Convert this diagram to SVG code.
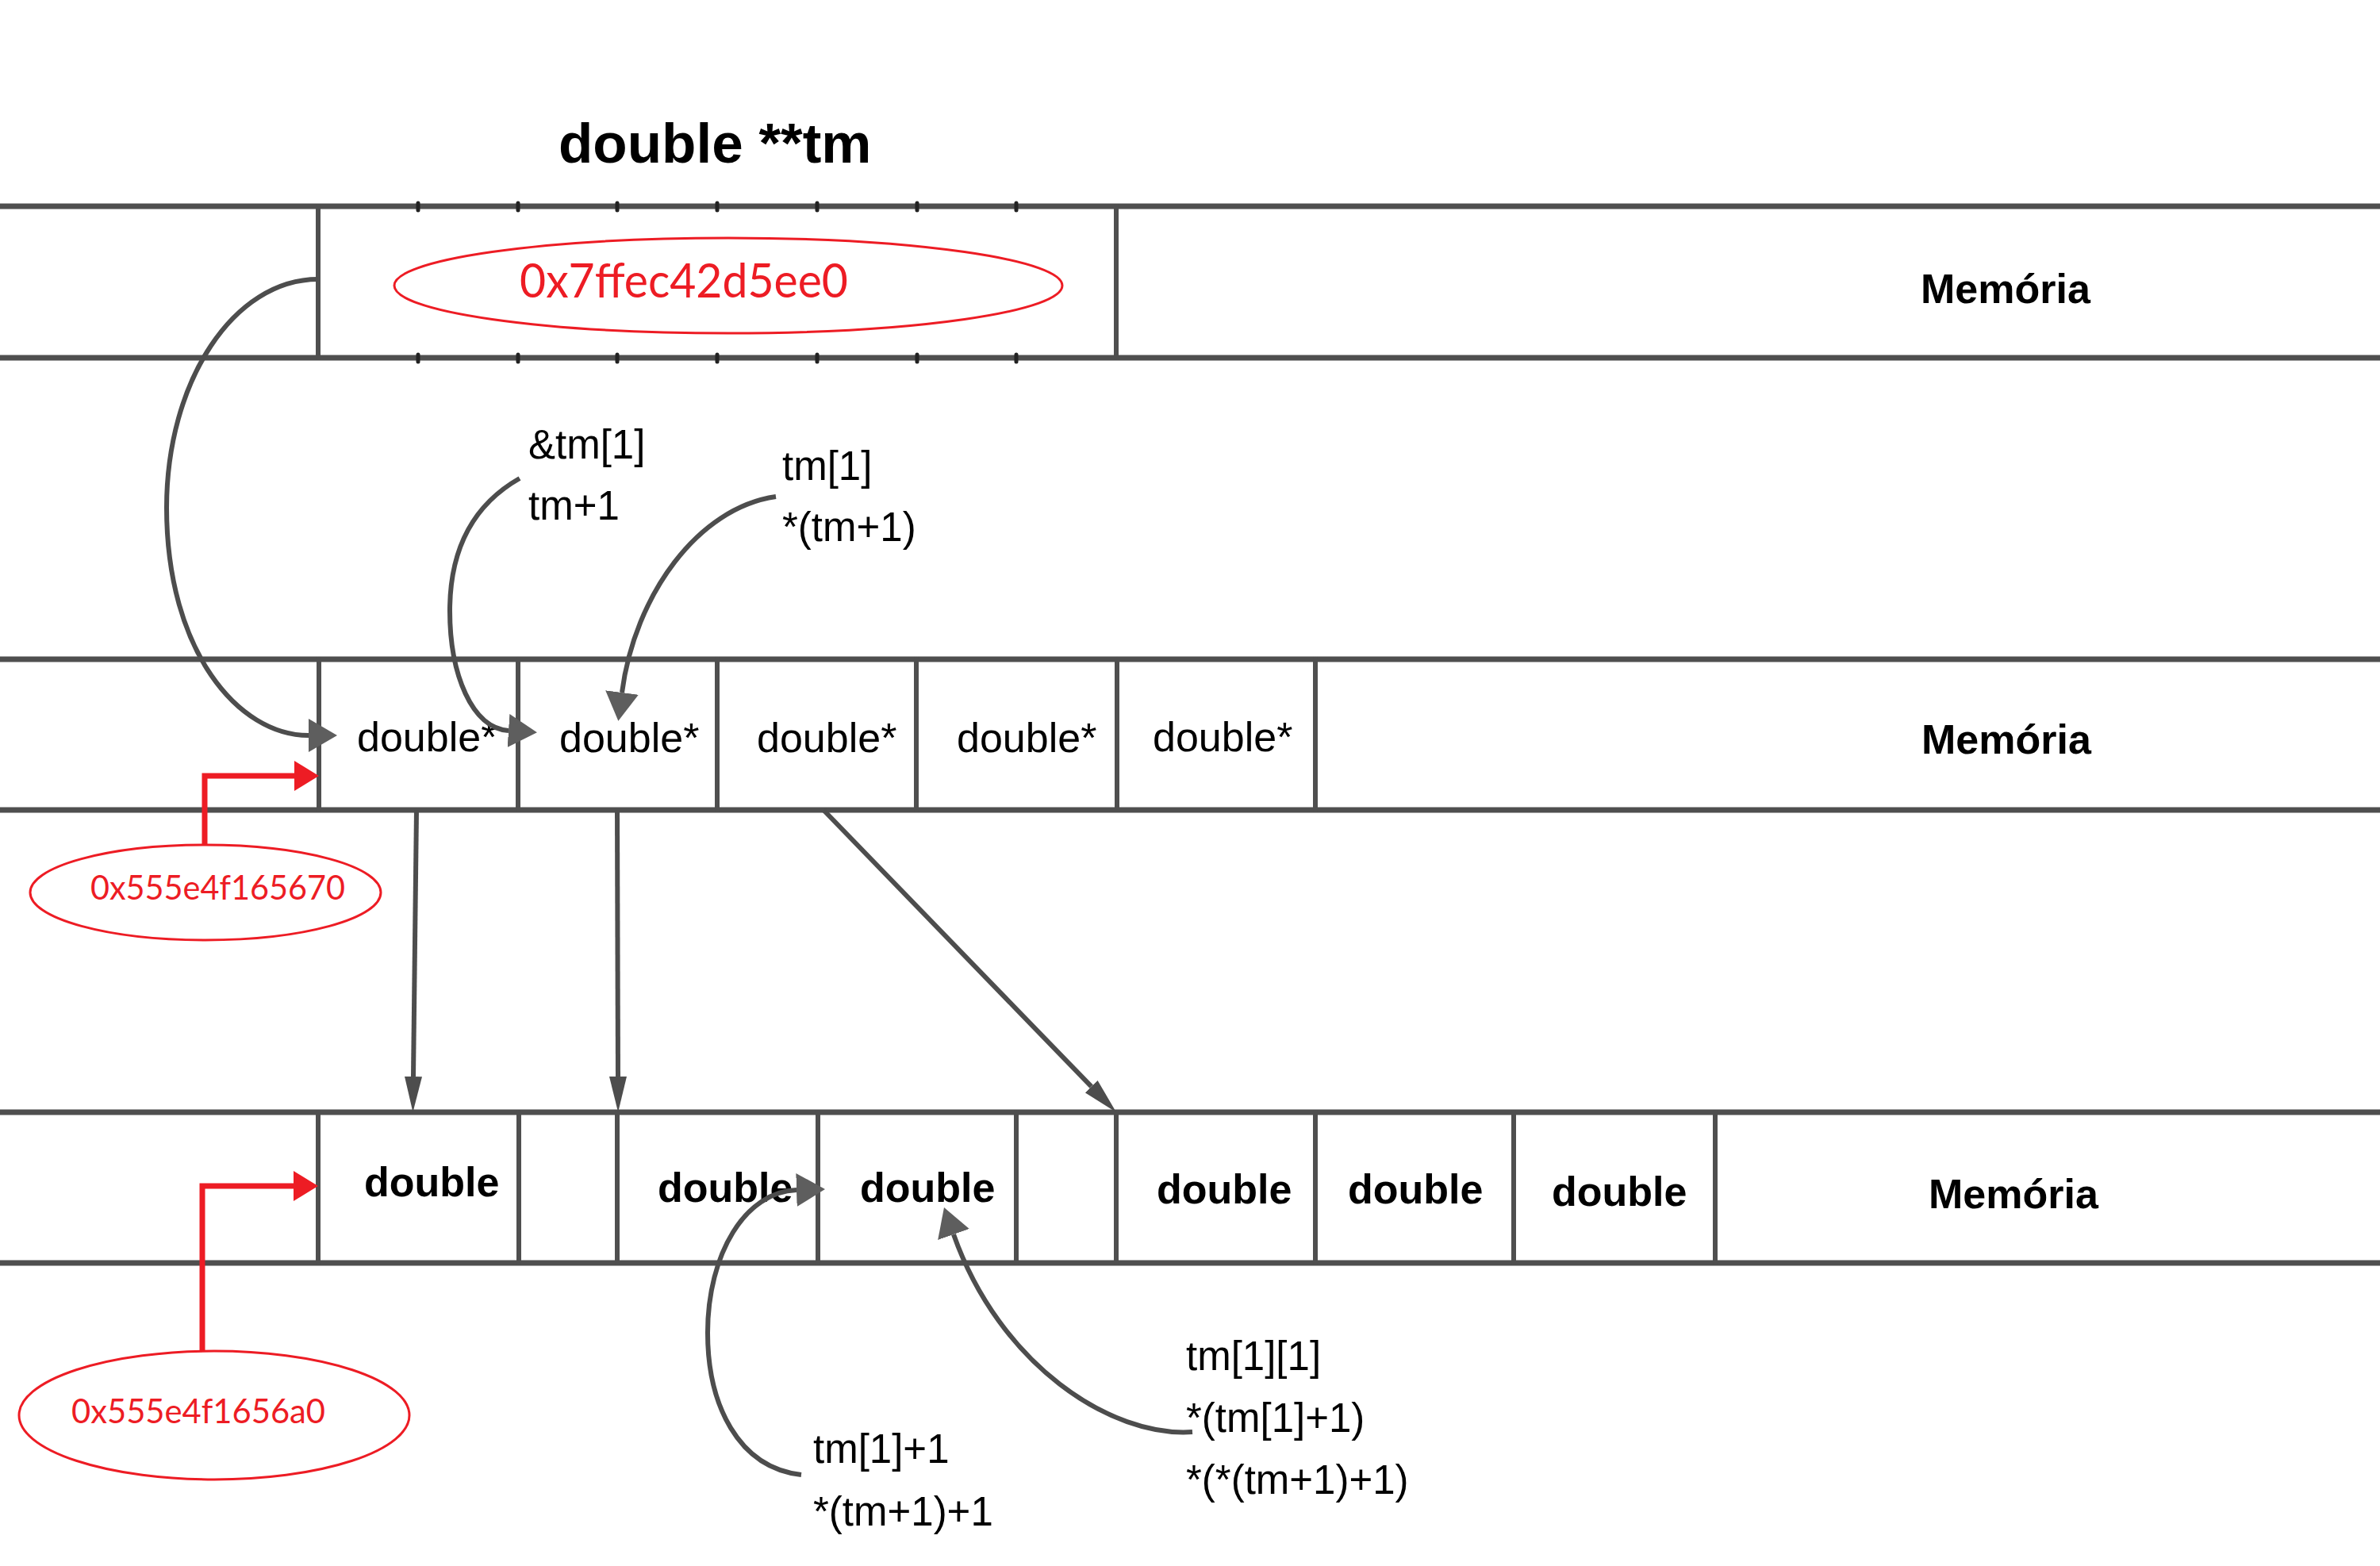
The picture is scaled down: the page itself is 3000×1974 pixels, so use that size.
<svg xmlns="http://www.w3.org/2000/svg" width="3000" height="1974" viewBox="0 0 3000 1974">
<style>
  .band { stroke: #4f4f4f; stroke-width: 7; fill: none; }
  .cell { stroke: #4f4f4f; stroke-width: 6; fill: none; stroke-linecap: round; }
  .tick { stroke: #222; stroke-width: 5; stroke-linecap: round; }
  .conn { stroke: #4d4d4d; stroke-width: 6; fill: none; }
  .red { stroke: #ed1c24; stroke-width: 7; fill: none; }
  .addr { stroke: #ed1c24; stroke-width: 3; fill: none; }
  .lbl { font-family: "Liberation Sans", Arial, sans-serif; font-size: 51px; fill: #000; }
  .ptr { font-family: "Liberation Sans", Arial, sans-serif; font-size: 52px; fill: #000; }
  .dbl { font-family: "Liberation Sans", Arial, sans-serif; font-size: 52px; font-weight: bold; fill: #000; }
  .mem { font-family: "Liberation Sans", Arial, sans-serif; font-size: 52px; font-weight: bold; fill: #000; }
  .hex { font-family: Lato, "Liberation Sans", sans-serif; fill: #ed1c24; }
</style>
<defs>
  <marker id="arrC" markerUnits="userSpaceOnUse" viewBox="0 0 36 42" markerWidth="36" markerHeight="42" refX="0" refY="21" orient="auto">
    <path d="M0,0 L36,21 L0,42 Z" fill="#5e5e5e"/>
  </marker>
  <marker id="arrS" markerUnits="userSpaceOnUse" viewBox="0 0 45 22" markerWidth="45" markerHeight="22" refX="0" refY="11" orient="auto">
    <path d="M0,0 L45,11 L0,22 Z" fill="#4d4d4d"/>
  </marker>
  <marker id="arrR" markerUnits="userSpaceOnUse" viewBox="0 0 31 38" markerWidth="31" markerHeight="38" refX="0" refY="19" orient="auto">
    <path d="M0,0 L31,19 L0,38 Z" fill="#ed1c24"/>
  </marker>
</defs>
<rect width="3000" height="1974" fill="#fff"/>

<text id="title" x="704" y="205" font-family="Liberation Sans, Arial, sans-serif" font-size="71" font-weight="bold">double **tm</text>

<!-- Band 1: double **tm -->
<g id="band1">
  <line class="band" x1="0" y1="260" x2="3000" y2="260"/>
  <line class="band" x1="0" y1="451" x2="3000" y2="451"/>
  <line class="cell" x1="401" y1="260" x2="401" y2="451"/>
  <line class="cell" x1="1407" y1="260" x2="1407" y2="451"/>
  <g class="tick">
    <line x1="527" y1="256" x2="527" y2="265"/><line x1="653" y1="256" x2="653" y2="265"/>
    <line x1="778" y1="256" x2="778" y2="265"/><line x1="904" y1="256" x2="904" y2="265"/>
    <line x1="1030" y1="256" x2="1030" y2="265"/><line x1="1156" y1="256" x2="1156" y2="265"/>
    <line x1="1281" y1="256" x2="1281" y2="265"/>
    <line x1="527" y1="447" x2="527" y2="456"/><line x1="653" y1="447" x2="653" y2="456"/>
    <line x1="778" y1="447" x2="778" y2="456"/><line x1="904" y1="447" x2="904" y2="456"/>
    <line x1="1030" y1="447" x2="1030" y2="456"/><line x1="1156" y1="447" x2="1156" y2="456"/>
    <line x1="1281" y1="447" x2="1281" y2="456"/>
  </g>
  <text class="mem" x="2421" y="382">Memória</text>
</g>
<g id="addr-tm">
  <ellipse class="addr" cx="918" cy="360" rx="421" ry="60"/>
  <text class="hex" x="655" y="375" font-size="60" textLength="414" lengthAdjust="spacingAndGlyphs">0x7ffec42d5ee0</text>
</g>

<!-- Band 2: double* array -->
<g id="band2">
  <line class="band" x1="0" y1="831" x2="3000" y2="831"/>
  <line class="band" x1="0" y1="1021" x2="3000" y2="1021"/>
  <line class="cell" x1="402" y1="831" x2="402" y2="1021"/>
  <line class="cell" x1="653" y1="831" x2="653" y2="1021"/>
  <line class="cell" x1="904" y1="831" x2="904" y2="1021"/>
  <line class="cell" x1="1155" y1="831" x2="1155" y2="1021"/>
  <line class="cell" x1="1408" y1="831" x2="1408" y2="1021"/>
  <line class="cell" x1="1658" y1="831" x2="1658" y2="1021"/>
  <text class="mem" x="2422" y="950">Memória</text>
</g>
<g id="ptr0"><text class="ptr" x="450" y="947">double*</text></g>
<g id="ptr1"><text class="ptr" x="705" y="948">double*</text></g>
<g id="ptr2"><text class="ptr" x="954" y="948">double*</text></g>
<g id="ptr3"><text class="ptr" x="1206" y="948">double*</text></g>
<g id="ptr4"><text class="ptr" x="1453" y="947">double*</text></g>
<g id="addr-row">
  <ellipse class="addr" cx="259" cy="1125" rx="221" ry="60"/>
  <text class="hex" x="114" y="1134" font-size="42" textLength="321" lengthAdjust="spacingAndGlyphs">0x555e4f165670</text>
</g>

<!-- Band 3: doubles -->
<g id="band3">
  <line class="band" x1="0" y1="1402" x2="3000" y2="1402"/>
  <line class="band" x1="0" y1="1592" x2="3000" y2="1592"/>
  <line class="cell" x1="401" y1="1402" x2="401" y2="1592"/>
  <line class="cell" x1="654" y1="1402" x2="654" y2="1592"/>
  <line class="cell" x1="778" y1="1402" x2="778" y2="1592"/>
  <line class="cell" x1="1031" y1="1402" x2="1031" y2="1592"/>
  <line class="cell" x1="1281" y1="1402" x2="1281" y2="1592"/>
  <line class="cell" x1="1407" y1="1402" x2="1407" y2="1592"/>
  <line class="cell" x1="1658" y1="1402" x2="1658" y2="1592"/>
  <line class="cell" x1="1908" y1="1402" x2="1908" y2="1592"/>
  <line class="cell" x1="2162" y1="1402" x2="2162" y2="1592"/>
  <text class="mem" x="2431" y="1523">Memória</text>
</g>
<g id="d0"><text class="dbl" x="459" y="1508">double</text></g>
<g id="d1"><text class="dbl" x="829" y="1515">double</text></g>
<g id="d2"><text class="dbl" x="1084" y="1515">double</text></g>
<g id="d3"><text class="dbl" x="1458" y="1517">double</text></g>
<g id="d4"><text class="dbl" x="1699" y="1517">double</text></g>
<g id="d5"><text class="dbl" x="1956" y="1520">double</text></g>
<g id="addr-data">
  <ellipse class="addr" cx="270" cy="1784" rx="246" ry="81"/>
  <text class="hex" x="90" y="1794" font-size="42" textLength="320" lengthAdjust="spacingAndGlyphs">0x555e4f1656a0</text>
</g>

<!-- Labels -->
<g id="lbl-amp">
  <text class="lbl" x="666" y="578">&amp;tm[1]</text>
  <text class="lbl" x="666" y="655">tm+1</text>
</g>
<g id="lbl-tm1">
  <text class="lbl" x="986" y="605">tm[1]</text>
  <text class="lbl" x="986" y="682">*(tm+1)</text>
</g>
<g id="lbl-tm1p1">
  <text class="lbl" x="1025" y="1844">tm[1]+1</text>
  <text class="lbl" x="1025" y="1923">*(tm+1)+1</text>
</g>
<g id="lbl-tm11">
  <text class="lbl" x="1495" y="1727">tm[1][1]</text>
  <text class="lbl" x="1495" y="1805">*(tm[1]+1)</text>
  <text class="lbl" x="1495" y="1883">*(*(tm+1)+1)</text>
</g>

<!-- Connectors -->
<g id="connectors">
  <path class="conn" d="M401,352 C295,352 210,480 210,640 C210,820 300,927 389,927" marker-end="url(#arrC)"/>
  <path class="conn" d="M655,603 C590,640 567,700 567,770 C567,850 595,918 641,921" marker-end="url(#arrC)"/>
  <path class="conn" d="M978,626 C880,640 800,750 784,873" marker-end="url(#arrC)"/>
  <path class="conn" d="M1010,1859 C930,1850 892,1770 892,1680 C892,1580 940,1502 1004,1500" marker-end="url(#arrC)"/>
  <path class="conn" d="M1503,1805 C1400,1812 1260,1720 1202,1556" marker-end="url(#arrC)"/>
  <line class="conn" x1="525" y1="1021" x2="521" y2="1357" marker-end="url(#arrS)"/>
  <line class="conn" x1="778" y1="1021" x2="779" y2="1357" marker-end="url(#arrS)"/>
  <line class="conn" x1="1038" y1="1021" x2="1375.7" y2="1369.7" marker-end="url(#arrS)"/>
  <path class="red" d="M258,1065 L258,978 L371,978" marker-end="url(#arrR)"/>
  <path class="red" d="M255,1703 L255,1495 L370,1495" marker-end="url(#arrR)"/>
</g>
</svg>
